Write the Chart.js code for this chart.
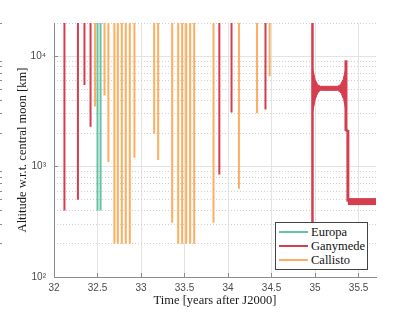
<!DOCTYPE html>
<html>
<head>
<meta charset="utf-8">
<script src="https://cdn.jsdelivr.net/npm/chart.js@4.4.1/dist/chart.umd.min.js"></script>
<style>
  body { margin: 0; background: #fff; }
  #wrap { position: relative; width: 415px; height: 312px; }
  #legend {
    position: absolute; left: 275px; top: 222px; width: 91px; height: 46px;
    background: #fff; border: 1px solid #444;
    font: 12.5px "Liberation Serif", serif; color: #111;
  }
  .row { position: absolute; left: 0; height: 14px; line-height: 14px; white-space: nowrap; }
  .row i { position: absolute; left: 3px; top: 6px; width: 29px; height: 2px; }
  .row span { position: absolute; left: 35px; top: 0; }
</style>
</head>
<body>
<div id="wrap">
  <canvas id="chart" width="415" height="312"></canvas>
  <div id="legend"></div>
</div>
<script>
// flyby passes: time [years after J2000] and closest altitude [km]
const europaT = [32.50, 32.535]
const europaAlt = [400, 400]

const ganymedeT = [32.12, 32.275, 32.35, 32.42, 33.90, 34.04, 34.43]
const ganymedeAlt = [400, 500, 5500, 2300, 850, 3100, 3300]

const callistoT = [32.472, 32.58, 32.625, 32.694, 32.733, 32.779, 32.825, 32.871, 32.924,
  33.151, 33.197, 33.358, 33.427, 33.473, 33.519, 33.565, 33.611, 33.833, 34.125, 34.333, 34.478]
const callistoAlt = [3500, 4400, 1100, 200, 200, 200, 200, 200, 1200,
  2000, 1150, 310, 200, 200, 200, 200, 200, 310, 630, 3050, 6600]

// Ganymede orbit insertion / orbit phase
const gLeftT = [34.97, 34.97]
const gLeftAlt = [20000, 300]
const gRightT = [35.355, 35.355, 35.377, 35.377]
const gRightAlt = [9200, 2150, 2100, 480]
const gTailT = [35.377, 35.7]
const gTailAlt = [482, 482]
const gBandTopT = [34.971, 34.984, 35.0, 35.03, 35.061, 35.26, 35.291, 35.322, 35.341, 35.355]
const gBandTopAlt = [7800, 7070, 6140, 5530, 5340, 5340, 5530, 6140, 7070, 7800]
const gBandLowT = [34.971, 34.986, 35.0, 35.03, 35.061, 35.26, 35.299, 35.329, 35.345, 35.355]
const gBandLowAlt = [3100, 3510, 4040, 4650, 4910, 4910, 4650, 4040, 3510, 3100]

const topAlt = 20000

const xTicks = [32, 32.5, 33, 33.5, 34, 34.5, 35, 35.5]
const xTickLabels = ["32", "32.5", "33", "33.5", "34", "34.5", "35", "35.5"]
const yMajorTicks = [100, 1000, 10000]
const yTickLabels = ["10\u00B2", "10\u00B3", "10\u2074"]
const yMinorTicks = [200, 300, 400, 500, 600, 700, 800, 900,
  2000, 3000, 4000, 5000, 6000, 7000, 8000, 9000, 20000]

const colors = { europa: "#66c2a5", ganymede: "#d53e4f", callisto: "#fdae61" }

// each pass is a vertical line from its altitude up to the top of the plot
function passes(times, alts) {
  const pts = []
  times.forEach((t, i) => {
    pts.push({ x: t, y: alts[i] }, { x: t, y: topAlt }, { x: t, y: null })
  })
  return pts
}

function path(times, alts) {
  return times.map((t, i) => ({ x: t, y: alts[i] }))
}

function lineSet(data, color, width, extra) {
  return Object.assign({
    data: data,
    borderColor: color,
    backgroundColor: color,
    borderWidth: width,
    pointRadius: 0,
    pointHoverRadius: 0,
    spanGaps: false,
    fill: false,
    clip: 0
  }, extra || {})
}

Chart.defaults.font.family = "'Liberation Sans', 'DejaVu Sans', sans-serif"
Chart.defaults.font.size = 10

const titleFont = { family: "'Liberation Serif', serif", size: 12.5 }

new Chart(document.getElementById("chart"), {
  type: "line",
  data: {
    datasets: [
      lineSet(passes(europaT, europaAlt), colors.europa, 2),
      lineSet(passes(ganymedeT, ganymedeAlt), colors.ganymede, 2),
      lineSet(passes(callistoT, callistoAlt), colors.callisto, 2),
      lineSet(path(gLeftT, gLeftAlt), colors.ganymede, 2.5),
      lineSet(path(gRightT, gRightAlt), colors.ganymede, 3),
      lineSet(path(gTailT, gTailAlt), colors.ganymede, 7),
      lineSet(path(gBandTopT, gBandTopAlt), colors.ganymede, 1),
      lineSet(path(gBandLowT, gBandLowAlt), colors.ganymede, 1, { fill: "-1" })
    ]
  },
  options: {
    responsive: false,
    animation: false,
    events: [],
    layout: { padding: { left: 0, right: 39, top: 23, bottom: 0 } },
    plugins: { legend: { display: false }, tooltip: { enabled: false } },
    scales: {
      x: {
        type: "linear",
        min: 32,
        max: 35.7,
        afterBuildTicks: (s) => { s.ticks = xTicks.map((v) => ({ value: v })) },
        afterFit: (s) => { s.height = 35 },
        ticks: {
          autoSkip: false,
          maxRotation: 0,
          padding: 9,
          color: "#4a4a4a",
          callback: (v) => xTickLabels[xTicks.indexOf(v)]
        },
        grid: { color: "#e3e3e3", tickColor: "#8c8c8c", tickLength: -4 },
        border: { color: "#8c8c8c", width: 1 },
        title: {
          display: true,
          text: "Time [years after J2000]",
          font: titleFont,
          color: "#1a1a1a",
          padding: { top: 0, bottom: 3.5 }
        }
      },
      y: {
        type: "logarithmic",
        min: 100,
        max: 20000,
        afterBuildTicks: (s) => { s.ticks = yMajorTicks.map((v) => ({ value: v })) },
        afterFit: (s) => { s.width = 54 },
        ticks: {
          autoSkip: false,
          padding: 12,
          color: "#4a4a4a",
          callback: (v) => yTickLabels[yMajorTicks.indexOf(v)]
        },
        grid: { color: "#e3e3e3", tickColor: "#8c8c8c", tickLength: -4 },
        border: { color: "#8c8c8c", width: 1 },
        title: {
          display: true,
          text: "Altitude w.r.t. central moon [km]",
          font: titleFont,
          color: "#1a1a1a",
          padding: { top: 15, bottom: 0 }
        }
      },
      yMinor: {
        type: "logarithmic",
        position: "left",
        weight: 1,
        min: 100,
        max: 20000,
        afterBuildTicks: (s) => { s.ticks = yMinorTicks.map((v) => ({ value: v })) },
        afterFit: (s) => { s.width = 0 },
        ticks: { display: false },
        grid: { color: "#cfcfcf", tickColor: "#8c8c8c", tickLength: -2 },
        border: { display: false, dash: [1, 2] }
      }
    }
  }
})

// legend box in the lower right of the axes
const legendItems = [
  { label: "Europa", color: colors.europa },
  { label: "Ganymede", color: colors.ganymede },
  { label: "Callisto", color: colors.callisto }
]
const legend = document.getElementById("legend")
legendItems.forEach((item, i) => {
  const row = document.createElement("div")
  row.className = "row"
  row.style.top = (1.5 + i * 14.3) + "px"
  row.innerHTML = '<i style="background:' + item.color + '"></i><span>' + item.label + "</span>"
  legend.appendChild(row)
})
</script>
</body>
</html>
